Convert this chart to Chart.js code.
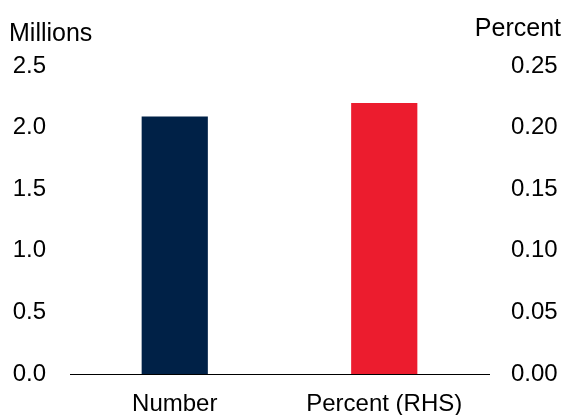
<!DOCTYPE html>
<html>
<head>
<meta charset="utf-8">
<script src="https://cdn.jsdelivr.net/npm/chart.js@4"></script>
<style>
html,body{margin:0;padding:0;background:#fff;}
#wrap{width:564px;height:415px;position:relative;}
</style>
</head>
<body>
<div id="wrap"><canvas id="c" width="564" height="415"></canvas></div>
<script>
const categories = ['Number', 'Percent (RHS)'];
const numberMillions = [2.09, null];
const percentRHS = [null, 0.22];
const leftTitle = 'Millions';
const rightTitle = 'Percent';
const leftTicks = [0, 0.5, 1.0, 1.5, 2.0, 2.5];
const rightTicks = [0, 0.05, 0.10, 0.15, 0.20, 0.25];

const FONT = "'Liberation Sans', Arial, sans-serif";
const FS = 24;

const titlesPlugin = {
  id: 'axisTitles',
  afterDraw(chart) {
    const ctx = chart.ctx;
    ctx.save();
    ctx.fillStyle = '#000';
    ctx.font = '25px ' + FONT;
    ctx.textBaseline = 'alphabetic';
    ctx.textAlign = 'left';
    ctx.fillText(leftTitle, 9, 41);
    ctx.textAlign = 'right';
    ctx.fillText(rightTitle, 561, 36);
    ctx.restore();
  }
};

new Chart(document.getElementById('c'), {
  type: 'bar',
  data: {
    labels: categories,
    datasets: [
      { data: numberMillions, yAxisID: 'yL', backgroundColor: '#002147', grouped: false,
        barPercentage: 0.316, categoryPercentage: 1 },
      { data: percentRHS, yAxisID: 'yR', backgroundColor: '#EC1C2E', grouped: false,
        barPercentage: 0.316, categoryPercentage: 1 }
    ]
  },
  options: {
    responsive: false,
    animation: false,
    layout: { padding: { top: 66, left: 0, right: 0, bottom: 0 } },
    plugins: { legend: { display: false }, tooltip: { enabled: false } },
    scales: {
      x: {
        grid: { display: false, drawTicks: false },
        border: { display: true, color: '#000', width: 1 },
        ticks: { color: '#000', font: { family: FONT, size: FS }, padding: 16, maxRotation: 0 },
        afterFit(s) { s.height = 41; }
      },
      yL: {
        position: 'left',
        min: 0, max: 2.5,
        afterBuildTicks(s) { s.ticks = leftTicks.map(v => ({ value: v })); },
        grid: { display: false, drawTicks: false },
        border: { display: false },
        ticks: { color: '#000', font: { family: FONT, size: FS }, padding: 24,
                 callback: v => Number(v).toFixed(1) },
        afterFit(s) { s.width = 70; }
      },
      yR: {
        position: 'right',
        min: 0, max: 0.25,
        afterBuildTicks(s) { s.ticks = rightTicks.map(v => ({ value: v })); },
        grid: { display: false, drawTicks: false },
        border: { display: false },
        ticks: { color: '#000', font: { family: FONT, size: FS }, padding: 22,
                 callback: v => Number(v).toFixed(2) },
        afterFit(s) { s.width = 75; }
      }
    }
  },
  plugins: [titlesPlugin]
});
</script>
</body>
</html>
